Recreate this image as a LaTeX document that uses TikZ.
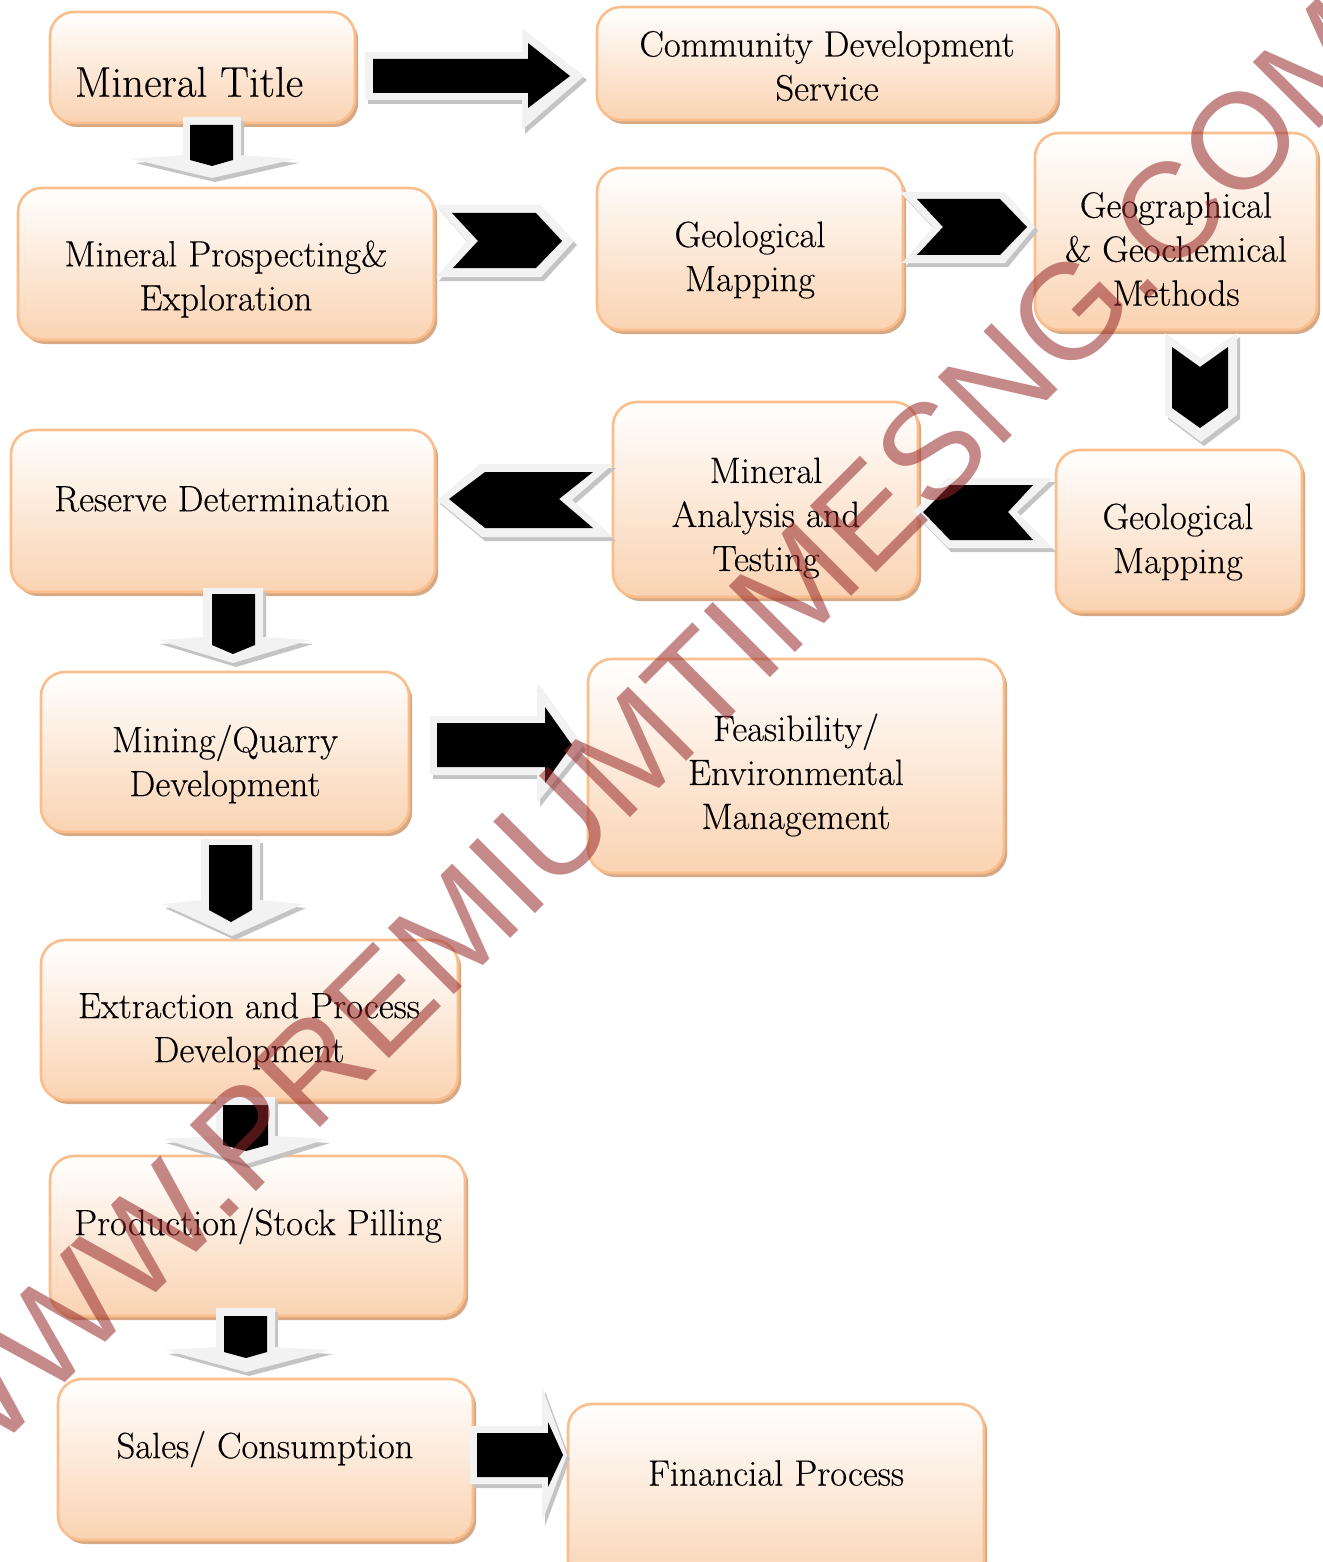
\documentclass[tikz,border=0pt]{standalone}
\usepackage{fontspec}
\setmainfont{Latin Modern Roman}[FakeBold=0.35]
\newfontfamily\wmfont{Liberation Sans}
\usetikzlibrary{fit,shadows}
\definecolor{boxborder}{RGB}{249,190,140}
\definecolor{boxfill}{RGB}{250,211,178}
\definecolor{boxshadow}{RGB}{214,168,132}
\definecolor{arrlight}{RGB}{242,242,242}
\definecolor{arrgray}{RGB}{196,196,196}
\definecolor{wmred}{RGB}{150,40,40}
\tikzset{
  box/.style={draw=boxborder, line width=1.3pt, rounded corners=12pt,
    top color=white, bottom color=boxfill, inner sep=0pt,
    drop shadow={shadow xshift=1.6pt, shadow yshift=-2pt, fill=boxshadow, opacity=1}},
  lbl/.style={font=\fontsize{18.3}{22}\selectfont, align=center, inner sep=0pt},
  arrshadow/.style={fill=arrgray},
  arrouter/.style={fill=arrlight},
  arrinner/.style={fill=black},
}
\newcommand\blockarr[2]{%
  \fill[arrshadow,shift={(3,4)}] #1 -- cycle;
  \fill[arrouter] #1 -- cycle;
  \fill[arrinner] #2 -- cycle;}
\begin{document}
\begin{tikzpicture}[x=0.5pt,y=-0.5pt]
\useasboundingbox (0,0) rectangle (1322,1562);
% boxes
\node[box, fit={(50,12) (355,123)}] (b1) {};
\node[box, fit={(597,7) (1057,120)}] (b2) {};
\node[box, fit={(18,188) (434,340)}] (b3) {};
\node[box, fit={(597,168) (903,330)}] (b4) {};
\node[box, fit={(1035,133) (1317,330)}] (b5) {};
\node[box, fit={(11,430) (435,592)}] (b6) {};
\node[box, fit={(613,402) (918,597)}] (b7) {};
\node[box, fit={(1056,450) (1302,612)}] (b8) {};
\node[box, fit={(41,672) (409,832)}] (b9) {};
\node[box, fit={(588,659) (1004,873)}] (b10) {};
\node[box, fit={(41,940) (458,1100)}] (b11) {};
\node[box, fit={(50,1156) (465,1316)}] (b12) {};
\node[box, fit={(58,1379) (473,1540)}] (b13) {};
\node[box, fit={(568,1404) (984,1590)}] (b14) {};
% labels
\node[lbl, font=\fontsize{21.5}{24}\selectfont] (t1) at (189,82) {Mineral Title};
\node[lbl] (t2) at (827,66) {Community Development\\Service};
\node[lbl] (t3) at (226,279) {Mineral Prospecting\&\\Exploration};
\node[lbl] (t4) at (750,260) {Geological\\Mapping};
\node[lbl] (t5) at (1176,249) {Geographical\\\& Geochemical\\Methods};
\node[lbl] (t6) at (222,499) {Reserve Determination};
\node[lbl] (t7) at (766,518) {Mineral\\Analysis and\\Testing};
\node[lbl] (t8) at (1178,542) {Geological\\Mapping};
\node[lbl] (t9) at (225,764) {Mining/Quarry\\Development};
\node[lbl] (t10) at (796,775) {Feasibility/\\Environmental\\Management};
\node[lbl] (t11) at (249,1031) {Extraction and Process\\Development};
\node[lbl] (t12) at (258,1226) {Production/Stock Pilling};
\node[lbl] (t13) at (265,1449) {Sales/ Consumption};
\node[lbl] (t14) at (776,1473) {Financial Process};
% right block arrows
\blockarr{(365,52)--(522,52)--(522,28)--(584,76)--(522,130)--(522,100)--(365,100)}
         {(373,59)--(528,59)--(528,43)--(570,76)--(528,108)--(528,93)--(373,93)}
\blockarr{(430,716)--(537,716)--(537,683)--(583,746)--(537,803)--(537,775)--(430,775)}
         {(437,723)--(545,723)--(545,707)--(572,745)--(545,783)--(545,767)--(437,767)}
\blockarr{(470,1426)--(542,1426)--(542,1387)--(567,1455)--(542,1522)--(542,1484)--(470,1484)}
         {(477,1433)--(548,1433)--(548,1422)--(563,1455)--(548,1487)--(548,1477)--(477,1477)}
% down block arrows
\blockarr{(183,117)--(241,117)--(241,155)--(296,159)--(212,178)--(132,159)--(183,155)}
         {(190,125)--(233,125)--(233,160)--(212,166)--(190,160)}
\blockarr{(203,588)--(263,588)--(263,637)--(310,640)--(233,663)--(157,640)--(203,637)}
         {(212,594)--(255,594)--(255,645)--(233,654)--(212,645)}
\blockarr{(201,839)--(260,839)--(260,900)--(303,904)--(232,936)--(162,904)--(201,900)}
         {(209,845)--(252,845)--(252,910)--(231,922)--(209,910)}
\blockarr{(216,1097)--(275,1097)--(275,1136)--(327,1139)--(246,1164)--(163,1139)--(216,1136)}
         {(223,1105)--(268,1105)--(268,1145)--(246,1151)--(223,1145)}
\blockarr{(216,1308)--(275,1308)--(275,1347)--(330,1350)--(246,1372)--(165,1350)--(216,1347)}
         {(224,1316)--(267,1316)--(267,1352)--(246,1358)--(224,1352)}
% chevrons
\blockarr{(436,205)--(541,205)--(574,241)--(541,277)--(436,277)--(467,241)}
         {(452,213)--(536,213)--(562,241)--(536,268)--(453,268)--(478,241)}
\blockarr{(900,192)--(1005,192)--(1035,227)--(1005,263)--(902,263)--(933,227)}
         {(917,199)--(1000,199)--(1027,227)--(1000,255)--(917,255)--(943,227)}
\blockarr{(1165,333)--(1201,358)--(1237,333)--(1237,415)--(1201,442)--(1165,415)}
         {(1172,347)--(1200,367)--(1228,347)--(1228,408)--(1200,428)--(1172,408)}
\blockarr{(913,512)--(947,478)--(1053,478)--(1017,512)--(1053,548)--(948,548)}
         {(923,512)--(950,485)--(1033,485)--(1008,512)--(1033,540)--(950,540)}
\blockarr{(437,500)--(480,464)--(613,464)--(572,500)--(613,537)--(482,537)}
         {(449,499)--(485,472)--(593,472)--(559,499)--(593,528)--(485,528)}
% watermark
\node[rotate=45, text=wmred, text opacity=0.55, inner sep=0pt,
      font=\wmfont\fontsize{68}{68}\selectfont] (wm) at (640,742) {WWW.PREMIUMTIMESNG.COM};
\end{tikzpicture}
\end{document}
